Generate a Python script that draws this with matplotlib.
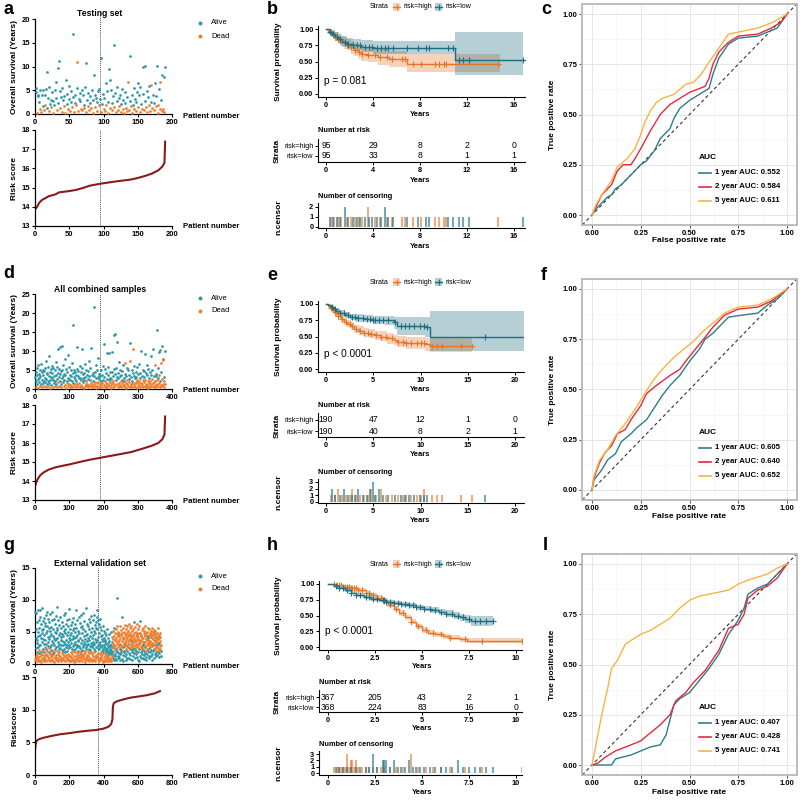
import numpy as np
import matplotlib
matplotlib.use('Agg')
import matplotlib.pyplot as plt
from matplotlib.lines import Line2D
from matplotlib.patches import Rectangle
from matplotlib import font_manager

_names = {f.name for f in font_manager.fontManager.ttflist}
FONT = 'Liberation Sans' if 'Liberation Sans' in _names else 'DejaVu Sans'
NARROW = 'Liberation Sans Narrow' if 'Liberation Sans Narrow' in _names else FONT
plt.rcParams['font.family'] = [FONT, 'DejaVu Sans']

# ======================= DATA =======================
# ---- Panel a: testing set (190 patients) ----
a_os = [4.6, 5.4, 0.3, 3.7, 4.1, 2.5, 5.1, 1.1, 0.4, 3.9,
        1.6, 5.0, 0.8, 4.0, 2.0, 5.2, 1.3, 8.9, 3.4, 5.6,
        0.6, 2.2, 3.0, 1.5, 4.6, 0.2, 2.8, 1.9, 5.0, 6.7,
        3.3, 0.9, 9.7, 2.4, 11.2, 4.8, 1.2, 3.6, 0.5, 5.4,
        2.9, 1.7, 3.8, 0.3, 7.2, 4.3, 2.1, 1.0, 5.8, 3.1,
        0.7, 2.6, 4.9, 1.4, 3.5, 16.8, 0.4, 2.3, 4.1, 1.8,
        11.0, 5.5, 0.6, 3.2, 2.7, 4.4, 1.1, 5.0, 0.9, 3.9,
        2.0, 1.3, 5.7, 0.5, 10.8, 3.0, 1.6, 4.5, 0.8, 2.4,
        3.7, 1.2, 5.1, 0.3, 2.9, 8.2, 4.0, 1.5, 3.3, 0.7,
        2.5, 4.8, 1.9, 5.3, 3.1, 0.4, 11.8, 2.2, 4.2, 1.0,
        3.4, 0.6, 6.5, 1.8, 4.9, 0.3, 2.6, 9.5, 1.2, 7.2,
        5.0, 0.9, 2.3, 3.8, 14.6, 1.4, 4.4, 0.5, 2.8, 5.6,
        0.8, 3.3, 1.6, 4.1, 2.1, 0.4, 5.2, 1.0, 3.0, 0.2,
        2.4, 4.7, 1.3, 0.6, 3.6, 6.8, 0.9, 12.2, 2.7, 1.7,
        4.0, 0.3, 2.0, 5.4, 1.1, 3.2, 0.7, 2.5, 4.6, 6.6,
        1.5, 3.9, 0.5, 5.6, 2.2, 1.0, 4.3, 9.8, 0.8, 10.2,
        2.8, 1.4, 4.9, 0.4, 3.5, 1.9, 5.8, 0.6, 2.6, 6.2,
        1.2, 4.1, 2.3, 0.9, 6.5, 1.7, 3.7, 10.2, 0.3, 2.0,
        5.2, 1.0, 6.7, 2.9, 8.3, 0.7, 1.1, 7.7, 0.5, 10.0]
a_dead = ("0010000110" "0010100000" "1001010000" "0100001010" "0101000100"
          "1001001001" "1010001010" "0101001010" "0101000101" "0010010001"
          "0101010010" "0100010100" "1010010101" "0011011001" "0100101000"
          "1010010010" "0101010101" "1001010011" "0110011010")
a_risk_x = [1, 3, 6, 10, 15, 20, 30, 35, 50, 60, 70, 80, 95, 110, 120, 140, 150, 160, 170, 180, 186, 189, 190]
a_risk_y = [13.9, 14.0, 14.2, 14.35, 14.45, 14.55, 14.65, 14.75, 14.82, 14.88, 14.98, 15.1, 15.2,
            15.28, 15.33, 15.42, 15.5, 15.6, 15.72, 15.9, 16.1, 16.3, 17.45]

# ---- Panel d: all combined samples (380 patients) ----
d_os = [3.1, 4.5, 0.6, 2.2, 5.6, 1.4, 3.8, 0.3, 6.2, 2.7,
        4.0, 1.8, 2.9, 5.1, 0.9, 3.3, 6.7, 1.2, 4.4, 2.5,
        0.4, 3.6, 5.0, 1.6, 2.1, 4.8, 0.7, 3.0, 5.4, 1.9,
        2.6, 7.3, 0.5, 3.9, 1.3, 4.2, 2.0, 5.8, 0.8, 3.4,
        8.8, 1.5, 4.6, 2.3, 0.3, 5.2, 3.1, 1.0, 6.0, 2.8,
        4.1, 0.6, 2.4, 5.5, 1.7, 3.5, 0.9, 4.9, 2.0, 7.0,
        1.2, 3.7, 5.9, 0.4, 2.6, 4.3, 10.4, 1.8, 3.2, 0.7,
        5.3, 2.2, 11.0, 3.9, 1.4, 4.7, 0.5, 2.9, 5.0, 11.2,
        1.9, 3.4, 6.4, 0.8, 2.5, 4.0, 8.0, 1.1, 3.6, 5.2,
        0.3, 2.1, 4.5, 1.6, 3.0, 9.0, 0.9, 2.7, 1.3, 5.7,
        3.8, 0.6, 2.3, 4.9, 1.0, 3.3, 6.9, 0.4, 2.0, 4.2,
        1.5, 16.8, 3.1, 0.7, 5.1, 2.6, 1.2, 4.4, 0.5, 3.7,
        2.2, 5.3, 11.0, 1.4, 3.5, 0.8, 4.7, 2.9, 1.7, 6.1,
        0.4, 3.0, 2.4, 4.5, 1.1, 5.6, 10.6, 0.6, 2.8, 3.9,
        1.8, 0.3, 4.1, 2.5, 6.5, 0.9, 3.2, 1.4, 5.0, 2.1,
        0.7, 3.6, 1.2, 4.8, 0.5, 2.7, 7.4, 1.0, 3.3, 0.8,
        2.4, 5.4, 10.7, 1.6, 0.4, 3.8, 1.1, 4.3, 0.6, 2.0,
        3.5, 1.3, 21.7, 0.9, 4.6, 1.8, 6.2, 0.3, 2.9, 1.5,
        5.1, 0.7, 3.1, 1.9, 8.1, 0.5, 2.6, 4.0, 1.2, 3.4,
        0.9, 2.2, 4.9, 1.4, 0.6, 3.8, 1.7, 6.0, 2.5, 11.8,
        1.1, 3.2, 0.4, 5.3, 2.0, 0.8, 4.1, 1.5, 9.6, 2.7,
        0.5, 3.7, 1.3, 5.8, 2.3, 9.5, 0.7, 4.4, 1.9, 3.0,
        1.0, 2.6, 0.3, 9.8, 4.6, 1.6, 3.3, 0.6, 2.1, 5.2,
        1.4, 14.2, 3.9, 14.5, 0.8, 2.4, 5.6, 1.2, 3.1, 12.3,
        0.5, 2.8, 4.3, 1.7, 7.2, 0.9, 3.5, 1.1, 5.0, 2.2,
        3.6, 0.4, 1.8, 4.7, 2.5, 0.7, 6.4, 1.3, 3.0, 1.0,
        2.0, 6.8, 0.6, 4.0, 1.5, 3.4, 0.3, 5.4, 2.3, 1.2,
        4.9, 0.8, 3.7, 1.9, 2.6, 7.3, 0.5, 12.0, 1.4, 3.2,
        1.0, 5.1, 2.2, 0.4, 4.3, 10.6, 1.7, 0.9, 3.5, 6.1,
        2.8, 1.2, 0.6, 4.6, 1.8, 3.1, 0.3, 5.7, 2.4, 1.5,
        3.9, 0.7, 2.0, 6.6, 1.1, 4.2, 0.5, 2.9, 1.6, 10.1,
        0.9, 3.4, 1.3, 5.0, 2.3, 0.4, 4.7, 1.9, 3.2, 0.8,
        2.5, 9.3, 1.4, 4.1, 0.6, 3.7, 1.0, 6.3, 2.1, 0.3,
        5.3, 1.7, 3.0, 0.9, 4.4, 2.2, 0.5, 8.6, 1.2, 3.6,
        0.7, 2.7, 4.9, 1.5, 10.4, 0.4, 3.3, 1.9, 6.4, 2.0,
        1.1, 4.0, 0.6, 3.5, 15.4, 2.4, 1.3, 5.6, 0.8, 2.9,
        9.7, 1.6, 3.8, 0.5, 2.2, 10.2, 6.9, 1.0, 4.5, 11.3,
        2.6, 0.9, 7.8, 1.4, 7.6, 3.1, 0.4, 2.0, 9.9, 1.2]
d_dead = ("0010000100" "0000100000" "1000001000" "0010000010" "0000100000"
          "0100001000" "0001000101" "0000001000" "0001000100" "1001001010"
          "0100100100" "0001001010" "0001010010" "1000100100" "0100010101"
          "1010100101" "0001101010" "0101010101" "0101010010" "1001101000"
          "1010110100" "1010001010" "1010010110" "1000100100" "1001010101"
          "0110010101" "0110101011" "0101011010" "1001011100" "0110101011"
          "0110101010" "1010110101" "1010101011" "0101011010" "1101010111"
          "1010011010" "0111001100" "1101101101")
d_risk_x = [1, 3, 8, 15, 25, 40, 60, 80, 100, 130, 160, 190, 220, 250, 280, 310, 340, 360, 372, 378, 379, 380]
d_risk_y = [13.75, 13.9, 14.1, 14.3, 14.45, 14.6, 14.72, 14.8, 14.87, 15.0, 15.12, 15.22, 15.32,
            15.42, 15.52, 15.68, 15.85, 16.0, 16.2, 16.45, 17.0, 17.45]

# ---- Panel g: external validation set (735 patients) ----
g_os = [8.2, 0.6, 4.1, 1.2, 7.9, 2.5, 0.9, 5.4, 3.3, 1.6,
        6.5, 1.9, 0.4, 3.8, 8.4, 1.1, 2.7, 5.0, 0.8, 4.4,
        1.7, 6.9, 3.0, 0.5, 2.2, 5.7, 1.3, 8.5, 4.6, 0.7,
        2.9, 7.4, 1.5, 4.0, 0.3, 6.2, 1.9, 3.5, 2.1, 5.3,
        1.0, 4.8, 8.8, 2.4, 0.6, 3.9, 6.7, 1.4, 5.5, 0.9,
        3.2, 1.8, 7.2, 0.4, 4.5, 2.6, 5.9, 1.2, 3.7, 6.4,
        0.8, 2.3, 4.9, 1.6, 7.6, 3.1, 0.5, 5.2, 2.0, 8.1,
        1.4, 6.0, 3.4, 0.7, 4.2, 2.8, 1.1, 7.0, 5.6, 2.5,
        3.9, 0.9, 6.6, 1.9, 2.7, 5.1, 0.4, 4.3, 1.5, 7.8,
        2.2, 4.7, 0.6, 3.0, 1.3, 5.8, 8.2, 1.7, 3.6, 0.8,
        6.8, 1.2, 4.4, 2.0, 0.5, 3.3, 5.4, 1.5, 7.1, 2.9,
        0.3, 4.0, 1.8, 6.3, 2.4, 0.9, 5.0, 3.7, 1.1, 4.8,
        2.6, 7.5, 1.4, 3.9, 0.7, 5.6, 2.1, 8.9, 1.0, 4.1,
        5.3, 2.8, 0.6, 6.9, 1.6, 3.4, 0.4, 4.6, 2.3, 1.2,
        3.1, 6.1, 1.9, 0.8, 4.9, 2.5, 7.3, 1.3, 3.8, 0.5,
        4.2, 1.0, 5.7, 2.9, 0.6, 3.6, 1.7, 6.5, 2.2, 4.7,
        1.5, 3.0, 6.0, 0.9, 4.3, 2.0, 5.1, 1.3, 7.7, 3.5,
        0.7, 2.4, 4.8, 1.8, 8.0, 3.2, 0.4, 5.5, 1.1, 2.7,
        6.2, 1.4, 3.7, 0.6, 4.5, 2.1, 6.8, 1.0, 3.0, 5.0,
        2.5, 0.8, 5.9, 1.6, 3.4, 7.0, 0.5, 4.1, 2.9, 1.2,
        8.6, 3.8, 1.3, 5.4, 0.7, 2.6, 4.6, 1.9, 6.1, 0.4,
        3.3, 1.1, 4.9, 2.3, 0.9, 6.6, 1.5, 3.9, 5.3, 2.0,
        0.6, 4.4, 2.8, 7.2, 1.3, 3.1, 0.3, 5.7, 2.2, 4.0,
        1.8, 6.3, 3.5, 0.8, 5.0, 2.4, 8.5, 1.2, 4.2, 2.9,
        5.6, 0.5, 3.0, 1.7, 6.9, 2.6, 0.9, 4.6, 1.4, 3.8,
        2.1, 5.2, 0.7, 3.6, 1.1, 7.4, 2.8, 0.4, 4.9, 1.6,
        4.0, 1.9, 6.4, 2.5, 0.6, 3.3, 5.8, 1.3, 2.0, 7.6,
        0.9, 3.7, 1.5, 4.8, 2.2, 0.5, 6.0, 3.0, 1.0, 5.5,
        2.7, 7.9, 1.2, 4.3, 0.8, 3.5, 2.0, 6.7, 1.6, 3.9,
        5.1, 0.3, 3.2, 1.8, 8.7, 2.6, 0.7, 4.5, 2.3, 1.1,
        3.6, 6.2, 0.9, 2.9, 4.7, 1.4, 5.9, 0.6, 3.1, 2.0,
        1.3, 4.1, 7.1, 2.4, 0.5, 3.8, 1.7, 5.4, 2.8, 0.8,
        6.5, 2.2, 4.4, 1.0, 3.3, 0.6, 5.0, 1.9, 7.5, 3.0,
        0.4, 2.6, 5.6, 1.5, 4.0, 2.9, 0.8, 6.8, 3.5, 1.2,
        4.6, 1.8, 3.1, 7.7, 0.7, 2.3, 5.2, 1.1, 3.9, 6.1,
        2.0, 0.5, 4.8, 3.4, 1.4, 6.6, 2.7, 0.9, 5.7, 8.4,
        7.4, 3.7, 1.2, 5.5, 2.5, 0.6, 4.2, 1.7, 3.0, 6.9,
        1.0, 4.9, 2.3, 0.4, 6.3, 3.2, 1.5, 5.8, 2.8, 0.8,
        3.5, 7.0, 1.8, 4.3, 0.9, 2.6, 5.3, 1.2, 3.9, 2.1,
        0.6, 3.0, 4.6, 1.5, 6.0, 2.4, 0.3, 3.6, 1.9, 5.1,
        2.7, 1.1, 4.1, 2.9, 0.7, 3.4, 1.6, 4.8, 0.5, 2.2,
        3.8, 1.3, 0.8, 2.5, 4.5, 1.9, 3.1, 0.4, 2.0, 1.4,
        2.3, 5.4, 0.9, 1.7, 3.3, 0.6, 2.8, 4.0, 1.2, 2.6,
        1.6, 3.6, 0.5, 2.1, 4.7, 1.0, 2.4, 0.8, 3.0, 1.8,
        2.9, 0.7, 1.5, 5.0, 2.2, 0.4, 3.5, 1.3, 2.6, 1.9,
        4.2, 1.8, 3.3, 0.9, 2.7, 5.1, 1.4, 3.9, 0.6, 2.5,
        3.0, 5.6, 2.1, 4.4, 1.2, 3.7, 0.8, 4.9, 2.8, 1.6,
        5.4, 2.3, 3.6, 0.7, 4.0, 1.9, 4.7, 3.1, 2.0, 5.9,
        10.3, 2.6, 4.3, 1.3, 3.4, 5.0, 0.9, 2.9, 4.6, 1.7,
        3.8, 1.1, 4.9, 2.4, 6.0, 3.2, 1.5, 4.1, 0.6, 2.7,
        4.5, 3.0, 1.8, 5.3, 2.2, 7.3, 3.6, 0.8, 4.8, 2.0,
        1.4, 3.9, 5.7, 2.6, 4.2, 0.5, 3.3, 5.0, 1.9, 2.9,
        4.0, 2.1, 3.5, 6.1, 1.2, 4.7, 2.8, 3.2, 0.7, 5.5,
        2.4, 4.4, 1.6, 3.8, 5.9, 2.0, 4.1, 0.9, 3.0, 4.9,
        5.2, 3.4, 2.7, 1.0, 4.6, 3.7, 6.3, 1.7, 2.5, 4.3,
        3.1, 0.8, 4.8, 2.3, 5.6, 3.9, 1.4, 4.5, 2.9, 3.6,
        6.0, 2.6, 4.0, 1.9, 3.3, 5.1, 0.6, 4.4, 2.2, 3.8,
        1.2, 4.6, 3.0, 5.4, 2.5, 4.1, 1.7, 3.5, 6.6, 2.0,
        4.9, 2.8, 0.9, 3.7, 5.8, 2.3, 4.3, 1.5, 3.2, 5.0,
        2.1, 3.6, 4.7, 1.1, 3.9, 6.2, 2.6, 4.5, 0.7, 3.1,
        5.5, 1.8, 4.2, 2.9, 3.4, 0.5, 4.8, 2.4, 5.9, 3.7,
        3.3, 4.9, 1.3, 2.5, 6.7, 3.8, 1.9, 4.4, 2.8, 0.9,
        4.6, 2.2, 3.6, 5.3, 1.6, 4.0, 2.7, 3.2, 5.7, 1.0,
        2.3, 4.1, 3.0, 0.8, 4.8, 2.0, 5.1, 3.5, 1.4, 4.4,
        5.9, 3.4, 1.7, 4.5, 2.6, 3.9, 0.6, 4.9, 2.1, 3.0,
        1.1, 3.7, 5.0, 2.4, 4.3, 1.5, 3.3, 5.6, 2.9, 4.0,
        3.8, 2.0, 4.6, 1.2, 3.1, 5.4, 2.5, 0.9, 4.2, 3.5,
        2.7, 4.9, 1.9, 3.6, 5.2, 2.2, 4.4, 1.3, 3.0, 4.7,
        4.0, 1.6, 3.3, 5.7, 2.8, 0.7, 4.5, 3.9, 2.1, 5.0,
        3.2, 4.8, 2.4, 1.0, 3.7, 5.3, 2.9, 4.2, 1.5, 3.4,
        5.1, 2.3, 4.4, 3.0, 1.8, 4.7, 2.6, 3.8, 1.2, 4.1,
        2.0, 3.5, 1.4, 4.9, 2.7, 3.1, 5.6, 1.9, 4.3, 2.5,
        3.9, 1.1, 4.6, 2.2, 3.3, 4.0, 1.7, 2.8, 4.8, 3.6,
        2.4, 4.2, 1.3, 3.0, 2.0]
g_dead = ("0101001001" "0010010010" "0001101001" "0010100010" "1000100101"
          "0001010100" "1001001010" "1001001001" "0100001010" "0010100101"
          "0101100000" "1000010010" "0010101010" "0010101001" "0011000101"
          "0100101000" "1001000100" "1000001010" "0101000100" "0101001001"
          "0010100101" "0100101001" "1000101000" "1001000100" "0101001010"
          "0010100101" "0100100100" "1010010010" "0010101010" "0101001001"
          "0010010101" "1000101001" "0001010100" "1001001001" "0100100100"
          "0100100100" "0010010100" "1001001001" "0010100100" "1001001000"
          "0100101010" "0110000101" "0010010010" "0010010100" "0100010100"
          "1010110101" "1011010110" "1010101101" "0110110110" "1010110101"
          "1101001011" "0110101101" "1011011001" "1101101011" "1100111011"
          "1010110110" "1110110101" "0111010101" "1101101011" "0110111101"
          "1011101011" "1101010110" "1011011010" "1100101101" "1101010111"
          "0111001110" "1010110011" "1101101011" "1011101101" "1100111001"
          "1110011101" "1101101011" "1011010111" "11010")
g_risk_x = [1, 3, 6, 12, 25, 50, 100, 150, 200, 250, 300, 360, 400, 430, 445, 452, 455, 460,
            480, 520, 560, 600, 650, 700, 735]
g_risk_y = [3.8, 4.6, 5.0, 5.3, 5.5, 5.7, 6.0, 6.25, 6.4, 6.6, 6.75, 6.9, 7.1, 7.4, 7.8, 8.5,
            10.5, 11.0, 11.3, 11.6, 11.85, 12.0, 12.2, 12.5, 12.9]

# ---- Kaplan-Meier: panel b (testing) ----
b_high_t = [0, 0.2, 0.4, 0.6, 0.8, 1.0, 1.2, 1.5, 1.8, 2.1, 2.4, 2.7, 3.0, 3.6, 4.4, 5.4, 6.9]
b_high_s = [1.0, 0.97, 0.94, 0.91, 0.88, 0.85, 0.82, 0.79, 0.76, 0.72, 0.68, 0.64, 0.62, 0.60, 0.57, 0.54, 0.46]
b_high_lo = [1.0, 0.94, 0.89, 0.85, 0.81, 0.78, 0.74, 0.70, 0.67, 0.62, 0.58, 0.54, 0.51, 0.49, 0.45, 0.42, 0.34]
b_high_hi = [1.0, 1.0, 0.99, 0.97, 0.95, 0.93, 0.90, 0.88, 0.85, 0.82, 0.79, 0.75, 0.73, 0.71, 0.69, 0.66, 0.62]
b_high_end = 14.8
b_low_t = [0, 0.3, 0.5, 0.8, 1.1, 1.4, 1.8, 2.3, 3.0, 4.0, 11.0]
b_low_s = [1.0, 0.96, 0.92, 0.88, 0.84, 0.80, 0.77, 0.75, 0.73, 0.71, 0.53]
b_low_lo = [1.0, 0.92, 0.87, 0.82, 0.77, 0.73, 0.69, 0.67, 0.65, 0.62, 0.29]
b_low_hi = [1.0, 1.0, 0.98, 0.95, 0.92, 0.89, 0.86, 0.84, 0.83, 0.81, 0.95]
b_low_end = 16.8
b_cens_high_t = [0.4, 0.7, 1.0, 1.3, 1.8, 2.1, 2.5, 2.8, 3.1, 3.6, 4.2, 4.6, 5.2, 5.6, 6.5, 6.7,
                 7.4, 8.1, 9.3, 9.6, 10.0, 10.2, 14.6]
b_cens_high_n = [1, 1, 1, 1, 1, 1, 1, 1, 1, 2, 1, 1, 1, 1, 1, 1, 1, 1, 1, 1, 1, 1, 1]
b_cens_low_t = [0.3, 0.6, 0.9, 1.2, 1.6, 1.9, 2.3, 2.6, 2.9, 3.3, 3.7, 3.9, 4.3, 4.7, 5.0, 5.3,
                5.7, 6.9, 7.8, 8.5, 8.8, 10.4, 10.8, 11.3, 11.7, 12.2, 16.8]
b_cens_low_n = [1, 1, 1, 1, 2, 1, 1, 1, 1, 1, 1, 1, 1, 1, 2, 1, 1, 1, 1, 1, 1, 1, 1, 1, 1, 1, 1]
b_risk_times = [0, 4, 8, 12, 16]
b_risk_high = [95, 29, 8, 2, 0]
b_risk_low = [95, 33, 8, 1, 1]

# ---- Kaplan-Meier: panel e (combined) ----
e_high_t = [0, 0.2, 0.4, 0.6, 0.8, 1.0, 1.3, 1.6, 1.9, 2.2, 2.6, 3.0, 3.5, 4.0, 4.6, 5.2, 5.8,
            6.5, 7.2, 7.5, 8.5, 10.5, 11.0]
e_high_s = [1.0, 0.97, 0.94, 0.91, 0.88, 0.85, 0.81, 0.77, 0.73, 0.70, 0.66, 0.62, 0.59, 0.56,
            0.54, 0.52, 0.50, 0.47, 0.45, 0.42, 0.40, 0.38, 0.35]
e_high_lo = [1.0, 0.95, 0.91, 0.87, 0.84, 0.80, 0.76, 0.72, 0.68, 0.64, 0.60, 0.56, 0.52, 0.49,
             0.47, 0.45, 0.43, 0.39, 0.37, 0.34, 0.31, 0.28, 0.26]
e_high_hi = [1.0, 0.99, 0.97, 0.95, 0.92, 0.90, 0.87, 0.83, 0.79, 0.76, 0.72, 0.68, 0.66, 0.63,
             0.61, 0.59, 0.58, 0.55, 0.53, 0.51, 0.50, 0.48, 0.50]
e_high_end = 15.5
e_low_t = [0, 0.2, 0.5, 0.8, 1.1, 1.5, 2.0, 2.5, 3.2, 4.0, 5.0, 6.2, 7.2, 7.5, 10.5, 11.0]
e_low_s = [1.0, 0.98, 0.95, 0.92, 0.89, 0.86, 0.83, 0.80, 0.78, 0.77, 0.76, 0.75, 0.72, 0.66, 0.64, 0.49]
e_low_lo = [1.0, 0.96, 0.92, 0.88, 0.85, 0.82, 0.78, 0.75, 0.73, 0.72, 0.70, 0.68, 0.62, 0.52, 0.50, 0.27]
e_low_hi = [1.0, 1.0, 0.98, 0.96, 0.94, 0.91, 0.88, 0.85, 0.84, 0.83, 0.82, 0.81, 0.80, 0.80, 0.80, 0.89]
e_low_end = 21.0
e_cens_high_t = [0.5, 0.9, 1.3, 1.7, 2.1, 2.5, 2.8, 3.2, 3.6, 4.0, 4.4, 4.8, 5.3, 5.8, 6.4, 7.0,
                 7.6, 8.1, 8.5, 9.0, 9.6, 10.1, 10.4, 11.2, 11.7, 12.3, 14.3, 15.4]
e_cens_high_n = [1, 1, 2, 1, 1, 1, 2, 1, 1, 1, 1, 2, 1, 2, 1, 1, 1, 1, 1, 1, 1, 1, 2, 1, 1, 1, 1, 1]
e_cens_low_t = [0.6, 1.0, 1.5, 1.9, 2.3, 2.7, 3.1, 3.4, 3.9, 4.3, 4.7, 5.0, 5.2, 5.6, 6.0, 6.6,
                7.3, 7.9, 8.4, 8.8, 9.3, 9.9, 10.4, 10.7, 16.8]
e_cens_low_n = [2, 1, 1, 2, 1, 1, 1, 2, 1, 1, 2, 3, 1, 2, 1, 1, 1, 1, 1, 1, 1, 1, 1, 1, 1]
e_risk_times = [0, 5, 10, 15, 20]
e_risk_high = [190, 47, 12, 1, 0]
e_risk_low = [190, 40, 8, 2, 1]

# ---- Kaplan-Meier: panel h (external) ----
h_high_t = [0, 0.4, 0.8, 1.2, 1.6, 2.0, 2.3, 2.6, 2.9, 3.2, 3.5, 3.8, 4.1, 4.4, 4.7, 5.0, 5.3,
            5.7, 6.1, 6.5, 7.0, 7.4]
h_high_s = [1.0, 0.98, 0.96, 0.93, 0.90, 0.86, 0.82, 0.78, 0.73, 0.67, 0.61, 0.54, 0.47, 0.40,
            0.33, 0.27, 0.23, 0.20, 0.17, 0.15, 0.12, 0.10]
h_high_lo = [1.0, 0.97, 0.94, 0.91, 0.87, 0.83, 0.79, 0.74, 0.69, 0.63, 0.57, 0.50, 0.43, 0.36,
             0.29, 0.23, 0.19, 0.16, 0.13, 0.11, 0.08, 0.06]
h_high_hi = [1.0, 0.99, 0.98, 0.95, 0.93, 0.89, 0.85, 0.82, 0.77, 0.71, 0.65, 0.58, 0.51, 0.44,
             0.37, 0.31, 0.27, 0.24, 0.21, 0.19, 0.16, 0.15]
h_high_end = 10.3
h_low_t = [0, 0.3, 0.6, 0.9, 1.2, 1.5, 1.9, 2.3, 2.7, 3.1, 3.5, 3.9, 4.3, 4.7, 5.1, 5.5, 5.9,
           6.3, 6.7, 7.0, 7.3, 7.6]
h_low_s = [1.0, 0.97, 0.94, 0.90, 0.86, 0.83, 0.79, 0.76, 0.74, 0.72, 0.70, 0.68, 0.66, 0.63,
           0.61, 0.59, 0.56, 0.53, 0.50, 0.47, 0.44, 0.41]
h_low_lo = [1.0, 0.96, 0.92, 0.88, 0.84, 0.80, 0.76, 0.73, 0.71, 0.69, 0.66, 0.64, 0.62, 0.59,
            0.57, 0.54, 0.51, 0.48, 0.45, 0.42, 0.38, 0.33]
h_low_hi = [1.0, 0.99, 0.96, 0.93, 0.89, 0.86, 0.82, 0.79, 0.77, 0.75, 0.73, 0.72, 0.70, 0.67,
            0.65, 0.63, 0.61, 0.58, 0.56, 0.53, 0.51, 0.50]
h_low_end = 8.8
h_cens_high_t = [0.3, 0.5, 0.6, 0.7, 0.8, 0.9, 1.0, 1.1, 1.2, 1.3, 1.4, 1.5, 1.6, 1.8, 2.0, 2.2,
                 2.4, 2.6, 2.8, 3.0, 3.3, 3.6, 4.0, 4.4, 4.8, 5.2, 5.6, 6.0, 6.5, 7.3, 8.2, 10.3]
h_cens_high_n = [1, 1, 1, 1, 1, 1, 3, 1, 2, 2, 1, 2, 1, 1, 1, 1, 1, 1, 1, 1, 1, 1, 1, 3, 1, 1,
                 1, 1, 1, 1, 1, 1]
h_cens_low_t = [0.4, 0.6, 0.8, 1.0, 1.2, 1.5, 1.7, 2.0, 2.2, 2.4, 2.6, 2.9, 3.0, 3.1, 3.3, 3.5,
                3.7, 3.9, 4.1, 4.3, 4.5, 4.7, 4.9, 5.1, 5.4, 5.7, 6.0, 6.3, 6.6, 6.9, 7.2, 7.5,
                7.8, 8.1, 8.4, 8.8]
h_cens_low_n = [1, 1, 1, 1, 1, 1, 1, 1, 1, 3, 1, 2, 2, 2, 1, 2, 1, 1, 1, 2, 1, 1, 1, 1, 1, 1,
                1, 1, 1, 2, 1, 1, 1, 1, 1, 1]
h_risk_times = [0, 2.5, 5, 7.5, 10]
h_risk_high = [367, 205, 43, 2, 1]
h_risk_low = [368, 224, 83, 16, 0]

# ---- ROC curves ----
c_fpr_1 = [0, 0.02, 0.05, 0.08, 0.1, 0.12, 0.15, 0.2, 0.25, 0.28, 0.32, 0.35, 0.4, 0.42, 0.45,
           0.5, 0.55, 0.6, 0.62, 0.65, 0.7, 0.75, 0.85, 0.9, 0.95, 1]
c_tpr_1 = [0, 0.03, 0.06, 0.09, 0.1, 0.13, 0.15, 0.2, 0.25, 0.27, 0.32, 0.38, 0.43, 0.48, 0.53,
           0.57, 0.6, 0.63, 0.7, 0.78, 0.85, 0.88, 0.89, 0.91, 0.93, 1]
c_fpr_2 = [0, 0.02, 0.05, 0.1, 0.13, 0.16, 0.2, 0.22, 0.25, 0.3, 0.35, 0.4, 0.45, 0.5, 0.58,
           0.6, 0.62, 0.65, 0.7, 0.75, 0.85, 0.92, 0.97, 1]
c_tpr_2 = [0, 0.04, 0.1, 0.15, 0.22, 0.25, 0.25, 0.28, 0.33, 0.42, 0.5, 0.55, 0.58, 0.61, 0.64,
           0.68, 0.75, 0.81, 0.86, 0.89, 0.9, 0.93, 0.96, 1]
c_fpr_5 = [0, 0.02, 0.05, 0.1, 0.13, 0.18, 0.22, 0.25, 0.27, 0.3, 0.33, 0.36, 0.42, 0.48, 0.52,
           0.56, 0.6, 0.65, 0.7, 0.75, 0.85, 0.93, 1]
c_tpr_5 = [0, 0.05, 0.1, 0.17, 0.24, 0.28, 0.33, 0.4, 0.46, 0.52, 0.56, 0.58, 0.6, 0.65, 0.66,
           0.7, 0.76, 0.83, 0.9, 0.91, 0.93, 0.96, 1]
c_auc = ['0.552', '0.584', '0.611']

f_fpr_1 = [0, 0.01, 0.05, 0.08, 0.12, 0.15, 0.2, 0.23, 0.28, 0.32, 0.36, 0.4, 0.45, 0.5, 0.55,
           0.58, 0.62, 0.67, 0.7, 0.77, 0.85, 0.9, 0.95, 1]
f_tpr_1 = [0, 0.05, 0.1, 0.15, 0.18, 0.24, 0.28, 0.31, 0.35, 0.41, 0.47, 0.52, 0.57, 0.64, 0.7,
           0.75, 0.78, 0.83, 0.86, 0.87, 0.88, 0.92, 0.95, 1]
f_fpr_2 = [0, 0.01, 0.04, 0.07, 0.1, 0.13, 0.17, 0.2, 0.25, 0.28, 0.33, 0.4, 0.45, 0.48, 0.53,
           0.58, 0.62, 0.68, 0.75, 0.85, 0.92, 1]
f_tpr_2 = [0, 0.06, 0.14, 0.19, 0.22, 0.28, 0.3, 0.35, 0.42, 0.48, 0.52, 0.57, 0.6, 0.64, 0.7,
           0.76, 0.81, 0.87, 0.9, 0.91, 0.94, 1]
f_fpr_5 = [0, 0.01, 0.04, 0.08, 0.12, 0.17, 0.22, 0.27, 0.31, 0.36, 0.42, 0.47, 0.52, 0.57,
           0.62, 0.68, 0.75, 0.85, 0.92, 1]
f_tpr_5 = [0, 0.07, 0.15, 0.2, 0.27, 0.33, 0.4, 0.48, 0.54, 0.6, 0.66, 0.7, 0.74, 0.79, 0.83,
           0.88, 0.91, 0.92, 0.95, 1]
f_auc = ['0.605', '0.640', '0.652']

i_fpr_1 = [0, 0.05, 0.1, 0.12, 0.2, 0.25, 0.3, 0.35, 0.38, 0.42, 0.45, 0.5, 0.55, 0.6, 0.65,
           0.7, 0.75, 0.78, 0.8, 0.85, 0.9, 0.95, 1]
i_tpr_1 = [0, 0, 0, 0.03, 0.05, 0.07, 0.09, 0.1, 0.15, 0.3, 0.33, 0.36, 0.42, 0.48, 0.55, 0.65,
           0.72, 0.78, 0.85, 0.88, 0.9, 0.95, 1]
i_fpr_2 = [0, 0.03, 0.07, 0.12, 0.2, 0.25, 0.3, 0.35, 0.4, 0.43, 0.48, 0.52, 0.58, 0.65, 0.7,
           0.75, 0.78, 0.8, 0.85, 0.9, 0.95, 1]
i_tpr_2 = [0, 0.01, 0.04, 0.07, 0.1, 0.12, 0.16, 0.2, 0.25, 0.32, 0.36, 0.41, 0.47, 0.57, 0.68,
           0.7, 0.75, 0.83, 0.87, 0.89, 0.93, 1]
i_fpr_5 = [0, 0.01, 0.03, 0.05, 0.08, 0.1, 0.13, 0.17, 0.2, 0.25, 0.3, 0.35, 0.4, 0.45, 0.5,
           0.55, 0.6, 0.7, 0.75, 0.8, 0.9, 0.95, 1]
i_tpr_5 = [0, 0.05, 0.15, 0.25, 0.38, 0.48, 0.52, 0.6, 0.62, 0.65, 0.67, 0.7, 0.73, 0.78, 0.82,
           0.84, 0.85, 0.87, 0.9, 0.92, 0.95, 0.98, 1]
i_auc = ['0.407', '0.428', '0.741']

roc_years = ['1 year', '2 year', '5 year']

# ======================= STYLE =======================
C_ALIVE = '#2b97a8'
C_DEAD = '#f07c2c'
C_RISK = '#8b1a1a'
C_HIGH = '#e2772c'
C_LOW = '#1f6e82'
ROC_COLORS = ['#2b7d8c', '#e6283c', '#f6b443']

W = H = 800
fig = plt.figure(figsize=(8, 8), dpi=100)


def fx(x):
    return x / W


def fy(y):
    return 1 - y / H


def px_axes(l, t, r, b):
    return fig.add_axes([l / W, 1 - b / H, (r - l) / W, (b - t) / H])


def fmt(v):
    return '%g' % v


def ftext(x, y, s, **kw):
    kw.setdefault('va', 'center')
    return fig.text(fx(x), fy(y), s, **kw)


def style_prism(ax, xt, yt, fs=5.5):
    for s in ('top', 'right'):
        ax.spines[s].set_visible(False)
    for s in ('left', 'bottom'):
        ax.spines[s].set_linewidth(0.9)
    ax.set_xticks(xt, [fmt(v) for v in xt], fontsize=fs, fontweight='bold')
    ax.set_yticks(yt, [fmt(v) for v in yt], fontsize=fs, fontweight='bold')
    ax.tick_params(length=2.5, width=0.8, pad=1)


def scatter_panel(g, os_vals, dead_str, rx, ry, xmax, xticks, os_ticks, r_ticks, cut, title, rlabel):
    osv = np.array(os_vals, float)
    pid = np.arange(1, len(osv) + 1)
    dead = np.array([c == '1' for c in dead_str])
    ax = px_axes(35, g['st'], 172, g['sb'])
    ax.scatter(pid[~dead], osv[~dead], s=3.8, color=C_ALIVE, lw=0, clip_on=False, zorder=3)
    ax.scatter(pid[dead], osv[dead], s=3.8, color=C_DEAD, lw=0, clip_on=False, zorder=3)
    ax.set_xlim(0, xmax)
    ax.set_ylim(0, os_ticks[-1])
    style_prism(ax, xticks, os_ticks)
    ax.axvline(cut, 0, g['vl'], ls=(0, (1, 1)), color='#555555', lw=0.7, clip_on=False, zorder=1)
    ftext(15, (g['st'] + g['sb']) / 2, 'Overall survival (Years)', rotation=90, ha='center',
          fontsize=6, fontweight='bold')
    ftext(183, g['pn1'], 'Patient number', ha='left', fontsize=5.6, fontweight='bold')
    ftext(100, g['ty'], title, ha='center', fontsize=6.2, fontweight='bold')
    for yy, col, lab in ((g['ly1'], C_ALIVE, 'Alive'), (g['ly2'], C_DEAD, 'Dead')):
        fig.add_artist(Line2D([fx(200)], [fy(yy)], marker='o', ms=1.8, color=col, lw=0,
                              transform=fig.transFigure))
        ftext(211, yy, lab, ha='left', fontsize=5.5)

    ax2 = px_axes(35, g['rt'], 172, g['rb'])
    ax2.plot(rx, ry, color=C_RISK, lw=1.5, solid_capstyle='butt')
    ax2.set_xlim(0, xmax)
    ax2.set_ylim(r_ticks[0], r_ticks[-1])
    style_prism(ax2, xticks, r_ticks)
    ax2.axvline(cut, ls=(0, (1, 1)), color='#555555', lw=0.7, zorder=1)
    ftext(15, (g['rt'] + g['rb']) / 2, rlabel, rotation=90, ha='center', fontsize=6, fontweight='bold')
    ftext(183, g['pn2'], 'Patient number', ha='left', fontsize=5.6, fontweight='bold')


def step_at(t, s, q):
    idx = np.searchsorted(np.asarray(t), np.asarray(q), side='right') - 1
    return np.asarray(s)[idx]


def km_style(ax, xt, yt=None, ylabels=None):
    for s in ('top', 'right'):
        ax.spines[s].set_visible(False)
    for s in ('left', 'bottom'):
        ax.spines[s].set_linewidth(0.8)
    ax.set_xticks(xt, [fmt(v) for v in xt], fontsize=5.3, fontweight='bold')
    if yt is not None:
        ax.set_yticks(yt, ylabels, fontsize=5.3, fontweight='bold')
    ax.tick_params(length=2.2, width=0.7, pad=1.2)


def km_panel(g, curves, risk_times, risk_high, risk_low, ptext):
    xl = ((g['left'] - g['x0']) / g['xu'], (g['right'] - g['x0']) / g['xu'])
    uy = g['y0'] - g['y1']
    ax = px_axes(g['left'], g['y1'] - 0.05 * uy, g['right'], g['y0'] + 0.05 * uy)
    ax.set_xlim(xl)
    ax.set_ylim(-0.05, 1.05)
    for (t, s, lo, hi, tend, ct, cn, col) in curves:
        tt = np.append(t, tend)
        ax.fill_between(tt, np.append(lo, lo[-1]), np.append(hi, hi[-1]), step='post',
                        color=col, alpha=0.33, lw=0)
    for (t, s, lo, hi, tend, ct, cn, col) in curves:
        tt = np.append(t, tend)
        ax.step(tt, np.append(s, s[-1]), where='post', color=col, lw=1.0)
        ax.plot(ct, step_at(t, s, ct), ls='none', marker='+', ms=4, mew=0.8, color=col)
    km_style(ax, g['xt'], [0, 0.25, 0.5, 0.75, 1.0], ['0.00', '0.25', '0.50', '0.75', '1.00'])
    ax.text(0.03, g['py'], ptext, transform=ax.transAxes, fontsize=7.3, family=NARROW, va='center')
    xc = g['x0'] + g['xu'] * (g['xt'][0] + g['xt'][-1]) / 2
    ftext(xc, g['yl_main'], 'Years', ha='center', fontsize=5.5, fontweight='bold')
    ftext(279, (g['y0'] + g['y1']) / 2, 'Survival probability', rotation=90, ha='center',
          fontsize=6, fontweight='bold')

    # legend
    ly = g['leg']
    ftext(370, ly, 'Strata', ha='left', fontsize=5, family=NARROW)
    for kx, tx, col, lab in ((393, 404, C_HIGH, 'risk=high'), (435, 445, C_LOW, 'risk=low')):
        fig.add_artist(Rectangle((fx(kx), fy(ly + 4)), 7 / W, 8 / H, transform=fig.transFigure,
                                 facecolor=col, alpha=0.33, lw=0))
        fig.add_artist(Line2D([fx(kx), fx(kx + 7)], [fy(ly), fy(ly)], color=col, lw=1,
                              transform=fig.transFigure))
        fig.add_artist(Line2D([fx(kx + 3.5)], [fy(ly)], marker='+', ms=4, mew=0.8, color=col,
                              transform=fig.transFigure))
        ftext(tx, ly, lab, ha='left', fontsize=5, family=NARROW)

    # risk table
    u = g['rl'] - g['rh']
    ax2 = px_axes(g['left'], g['rh'] - 7, g['right'], g['rax'])
    ax2.set_xlim(xl)
    ax2.set_ylim(1 - (g['rax'] - g['rl']) / u, 2 + 7 / u)
    for tk, nh, nl in zip(risk_times, risk_high, risk_low):
        ax2.text(tk, 2, str(nh), ha='center', va='center', fontsize=6.2, family=NARROW)
        ax2.text(tk, 1, str(nl), ha='center', va='center', fontsize=6.2, family=NARROW)
    km_style(ax2, g['xt'], [2, 1], ['risk=high', 'risk=low'])
    for lab in ax2.get_yticklabels():
        lab.set_fontweight('normal')
        lab.set_fontsize(5.2)
        lab.set_family(NARROW)
    ftext(g['left'], g['rtitle'], 'Number at risk', ha='left', fontsize=5.3, fontweight='bold')
    ftext(xc, g['yl_tab'], 'Years', ha='center', fontsize=5.5, fontweight='bold')
    ftext(277, (g['rh'] + g['rl']) / 2, 'Strata', rotation=90, ha='center', fontsize=6,
          fontweight='bold')

    # censoring
    cu = g['cu']
    cmax = g['cmax']
    ctop = g['c0'] - (cmax + 0.4) * cu
    ax3 = px_axes(g['left'], ctop, g['right'], g['cax'])
    ax3.set_xlim(xl)
    ax3.set_ylim(-(g['cax'] - g['c0']) / cu, cmax + 0.4)
    for (t, s, lo, hi, tend, ct, cn, col) in curves:
        ax3.vlines(ct, 0, cn, color=col, lw=1.5, alpha=0.6)
    km_style(ax3, g['xt'], list(range(cmax + 1)), [str(v) for v in range(cmax + 1)])
    ftext(g['left'], g['ctitle'], 'Number of censoring', ha='left', fontsize=5.3, fontweight='bold')
    ftext(xc, g['yl_cen'], 'Years', ha='center', fontsize=5.5, fontweight='bold')
    ftext(279, g['c0'] - cmax * cu / 2, 'n.censor', rotation=90, ha='center', fontsize=6,
          fontweight='bold')


def roc_panel(g, curves, aucs):
    ax = px_axes(582.25, g['y1'] - 10.05, 796.75, g['y0'] + 10.05)
    ax.set_xlim(-0.05, 1.05)
    ax.set_ylim(-0.05, 1.05)
    ticks = [0, 0.25, 0.5, 0.75, 1.0]
    labs = ['0.00', '0.25', '0.50', '0.75', '1.00']
    ax.set_xticks(ticks, labs, fontsize=5.5, fontweight='bold')
    ax.set_yticks(ticks, labs, fontsize=5.5, fontweight='bold')
    ax.set_xticks([0.125, 0.375, 0.625, 0.875], minor=True)
    ax.set_yticks([0.125, 0.375, 0.625, 0.875], minor=True)
    ax.grid(which='major', color='#e6e6e6', lw=0.7)
    ax.grid(which='minor', color='#f2f2f2', lw=0.4)
    ax.set_axisbelow(True)
    for sp in ax.spines.values():
        sp.set_color('#b8b8b8')
        sp.set_linewidth(1.3)
    ax.tick_params(which='major', length=2, width=0.6, color='#333333', pad=1.5)
    ax.tick_params(which='minor', length=0)
    ax.plot([-0.05, 1.05], [-0.05, 1.05], ls=(0, (3, 2.5)), color='#333333', lw=0.8)
    for (fp, tp), col in zip(curves, ROC_COLORS):
        ax.plot(fp, tp, color=col, lw=1.0)
    ax.text(0.55, 0.285, 'AUC', fontsize=6, fontweight='bold', va='center')
    for k, (col, yr, auc) in enumerate(zip(ROC_COLORS, roc_years, aucs)):
        yy = 0.21 - 0.07 * k
        ax.plot([0.55, 0.612], [yy, yy], color=col, lw=1.2)
        ax.text(0.632, yy, '%s AUC: %s' % (yr, auc), fontsize=5.6, fontweight='bold', va='center')
    ftext(553, (g['y1'] + g['y0']) / 2, 'True positive rate', rotation=90, ha='center',
          fontsize=6, fontweight='bold')
    ftext(689.5, g['xl'], 'False positive rate', ha='center', fontsize=6, fontweight='bold')


# ======================= DRAW =======================
scatter_panel(dict(st=19, sb=114, rt=130, rb=226, ty=14, ly1=23, ly2=36, pn1=116, pn2=227, vl=1.07),
              a_os, a_dead, a_risk_x, a_risk_y, 200, [0, 50, 100, 150, 200], [0, 5, 10, 15, 20],
              [13, 14, 15, 16, 17, 18], 95, 'Testing set', 'Risk score')
scatter_panel(dict(st=294, sb=389, rt=405, rb=500, ty=289, ly1=298, ly2=311, pn1=391, pn2=502, vl=1.0),
              d_os, d_dead, d_risk_x, d_risk_y, 400, [0, 100, 200, 300, 400], [0, 5, 10, 15, 20, 25],
              [13, 14, 15, 16, 17, 18], 190, 'All combined samples', 'Risk score')
scatter_panel(dict(st=568, sb=664, rt=677, rb=775, ty=563, ly1=576, ly2=589, pn1=666, pn2=777, vl=1.0),
              g_os, g_dead, g_risk_x, g_risk_y, 800, [0, 200, 400, 600, 800], [0, 5, 10, 15],
              [0, 5, 10, 15], 367, 'External validation set', 'Riskscore')

km_panel(dict(left=318, right=525, x0=326, xu=11.75, y1=29, y0=94, xt=[0, 4, 8, 12, 16], leg=7,
              yl_main=114, rh=146, rl=156, rax=162, rtitle=131, yl_tab=180, ctitle=197,
              c0=227, cu=10, cmax=2, cax=228, yl_cen=246, py=0.23),
         [(b_high_t, b_high_s, b_high_lo, b_high_hi, b_high_end, b_cens_high_t, b_cens_high_n, C_HIGH),
          (b_low_t, b_low_s, b_low_lo, b_low_hi, b_low_end, b_cens_low_t, b_cens_low_n, C_LOW)],
         b_risk_times, b_risk_high, b_risk_low, 'p = 0.081')
km_panel(dict(left=318, right=524, x0=326, xu=9.45, y1=304, y0=369, xt=[0, 5, 10, 15, 20], leg=282,
              yl_main=389, rh=420, rl=431, rax=437, rtitle=406, yl_tab=454, ctitle=472,
              c0=502, cu=6.67, cmax=3, cax=503, yl_cen=521, py=0.255),
         [(e_high_t, e_high_s, e_high_lo, e_high_hi, e_high_end, e_cens_high_t, e_cens_high_n, C_HIGH),
          (e_low_t, e_low_s, e_low_lo, e_low_hi, e_low_end, e_cens_low_t, e_cens_low_n, C_LOW)],
         e_risk_times, e_risk_high, e_risk_low, 'p < 0.0001')
km_panel(dict(left=319, right=522, x0=328, xu=18.8, y1=584, y0=647, xt=[0, 2.5, 5, 7.5, 10], leg=564,
              yl_main=667, rh=697, rl=707, rax=712, rtitle=683, yl_tab=729, ctitle=745,
              c0=773, cu=6.33, cmax=3, cax=775, yl_cen=792, py=0.27),
         [(h_high_t, h_high_s, h_high_lo, h_high_hi, h_high_end, h_cens_high_t, h_cens_high_n, C_HIGH),
          (h_low_t, h_low_s, h_low_lo, h_low_hi, h_low_end, h_cens_low_t, h_cens_low_n, C_LOW)],
         h_risk_times, h_risk_high, h_risk_low, 'p < 0.0001')

roc_panel(dict(y1=14, y0=215, xl=241), [(c_fpr_1, c_tpr_1), (c_fpr_2, c_tpr_2), (c_fpr_5, c_tpr_5)], c_auc)
roc_panel(dict(y1=289, y0=490, xl=516), [(f_fpr_1, f_tpr_1), (f_fpr_2, f_tpr_2), (f_fpr_5, f_tpr_5)], f_auc)
roc_panel(dict(y1=564, y0=765, xl=792), [(i_fpr_1, i_tpr_1), (i_fpr_2, i_tpr_2), (i_fpr_5, i_tpr_5)], i_auc)

for lab, x, y in (('a', 3, 9), ('b', 267, 10), ('c', 541, 9), ('d', 3, 273), ('e', 267, 275),
                  ('f', 541, 275), ('g', 3, 545), ('h', 267, 546), ('I', 543, 546)):
    ftext(x, y, lab, ha='left', fontsize=13, fontweight='bold')

fig.savefig('out.png', dpi=100)
